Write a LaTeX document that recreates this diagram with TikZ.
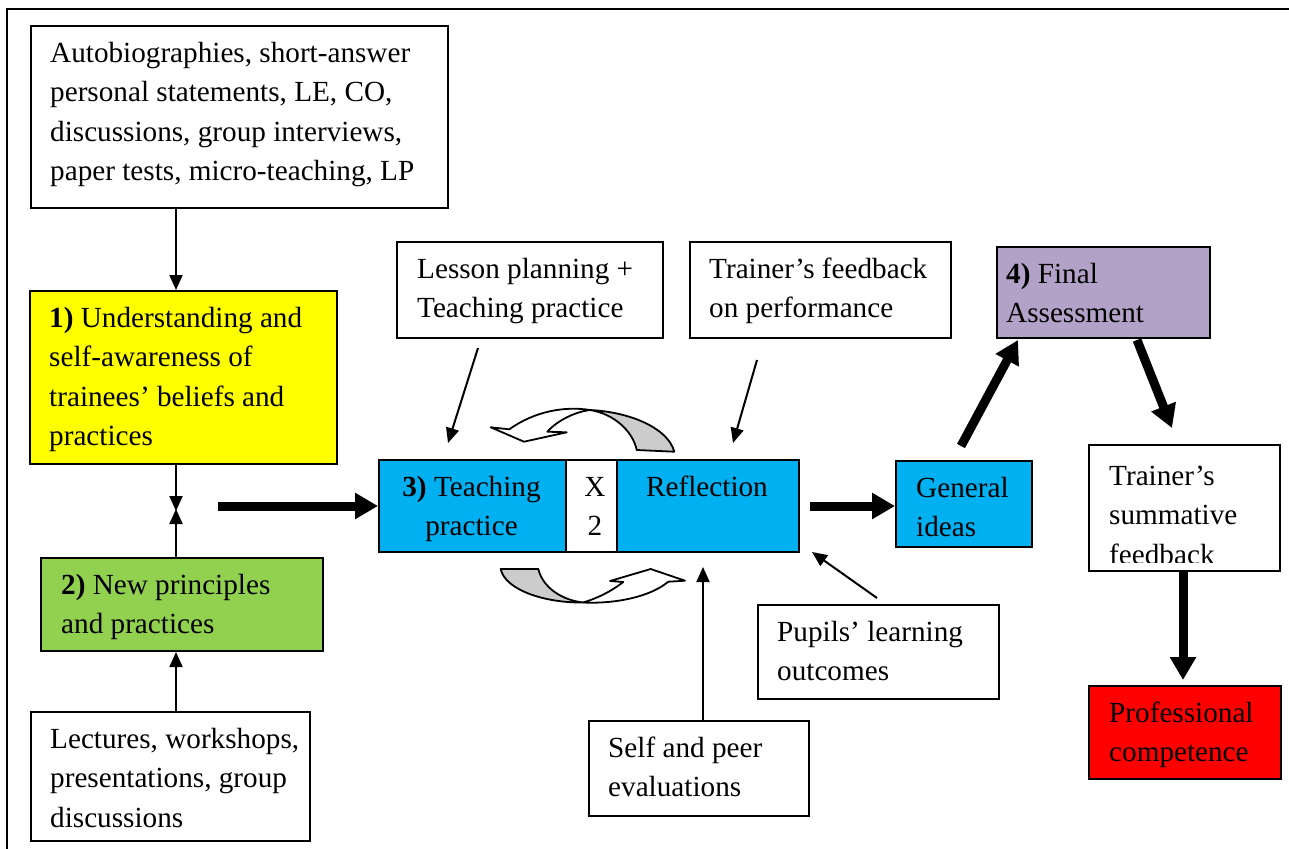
\documentclass[tikz,border=0pt]{standalone}
\usepackage{fontspec}
\setmainfont{Liberation Serif}
\usetikzlibrary{arrows.meta}
\definecolor{boxyellow}{HTML}{FFFF00}
\definecolor{boxgreen}{HTML}{92D050}
\definecolor{boxcyan}{HTML}{00B0F0}
\definecolor{boxpurple}{HTML}{B2A2C7}
\definecolor{boxred}{HTML}{FF0000}
\definecolor{turngray}{HTML}{CCCCCC}
% strut that fixes the height of a first text line
\newcommand\fst{\rule{0pt}{22pt}}
\begin{document}
\begin{tikzpicture}[x=1pt,y=-1pt,
  font=\fontsize{29.2pt}{39.5pt}\selectfont,
  box/.style={draw, line width=2pt, anchor=north west, inner sep=0pt},
  txt/.style={anchor=north west, align=left, inner sep=0pt},
  ctxt/.style={anchor=north, align=center, inner sep=0pt},
  thinarrow/.style={line width=2pt, -{Triangle[length=15pt,width=13pt]}},
  thickarrow/.style={line width=9pt, -{Triangle[length=23pt,width=25pt]}},
  turn/.style={draw, line width=1.8pt, line join=round},
]
\useasboundingbox (0,0) rectangle (1289,848);
% outer frame
\draw[line width=2pt] (7,9) rectangle (1300,860);

% ---- boxes ----
\node[box, minimum width=417pt, minimum height=182pt] (auto) at (30,25) {};
\node[txt] (autot) at (50,40) {\fst Autobiographies, short-answer\\personal statements, LE, CO,\\discussions, group interviews,\\paper tests, micro-teaching, LP};

\node[box, fill=boxyellow, minimum width=307pt, minimum height=173pt] (yel) at (29,290) {};
\node[txt] (yelt) at (49,305) {\fst\textbf{1)} Understanding and\\self-awareness of\\trainees’ beliefs and\\practices};

\node[box, fill=boxgreen, minimum width=282pt, minimum height=93pt] (grn) at (40,557) {};
\node[txt] (grnt) at (61,572) {\fst\textbf{2)} New principles\\and practices};

\node[box, minimum width=279pt, minimum height=129pt] (lect) at (30,711) {};
\node[txt] (lectt) at (50,726) {\fst Lectures, workshops,\\presentations, group\\discussions};

\node[box, minimum width=266pt, minimum height=96pt] (lp) at (396,241) {};
\node[txt] (lpt) at (417,256) {\fst Lesson planning +\\Teaching practice};

\node[box, minimum width=261pt, minimum height=96pt] (tf) at (689,241) {};
\node[txt] (tft) at (709,256) {\fst Trainer’s feedback\\on performance};

\node[box, fill=boxpurple, minimum width=213pt, minimum height=91pt] (fa) at (996,246) {};
\node[txt] (fat) at (1006,261) {\fst\textbf{4)} Final\\Assessment};

\node[box, fill=boxcyan, minimum width=187pt, minimum height=92pt] (tp) at (378,459) {};
\node[ctxt] (tpt) at (471.5,474) {\fst\textbf{3)} Teaching\\practice};
\node[box, minimum width=51pt, minimum height=92pt] (x2) at (565,459) {};
\node[ctxt] (x2t) at (595,474) {\fst X\\2};
\node[box, fill=boxcyan, minimum width=182pt, minimum height=92pt] (refl) at (616,459) {};
\node[ctxt] (reflt) at (707,474) {\fst Reflection};

\node[box, fill=boxcyan, minimum width=136pt, minimum height=86pt] (gi) at (895,460) {};
\node[txt] (git) at (916,475) {\fst General\\ideas};

\begin{scope}
  \clip (1088,444) rectangle (1279,562);
  \node[txt] (tsft) at (1109,463) {\fst Trainer’s\\summative\\feedback};
\end{scope}
\node[box, minimum width=191pt, minimum height=126pt] (tsf) at (1088,444) {};

\node[box, fill=boxred, minimum width=192pt, minimum height=93pt] (pc) at (1088,685) {};
\node[txt] (pct) at (1109,700) {\fst Professional\\competence};

\node[box, minimum width=241pt, minimum height=94pt] (pup) at (757,604) {};
\node[txt] (pupt) at (777,619) {\fst Pupils’ learning\\outcomes};

\node[box, minimum width=220pt, minimum height=95pt] (sp) at (588,720) {};
\node[txt] (spt) at (608,735) {\fst Self and peer\\evaluations};

% ---- free ends of connectors ----
\coordinate (meet) at (176,510);
\coordinate (start1) at (218,506);
\coordinate (lpend) at (478,348);
\coordinate (lptip) at (448,443);
\coordinate (tfend) at (757,360);
\coordinate (tftip) at (733,443);
\coordinate (pupend) at (877,598);
\coordinate (puptip) at (812,552);
\coordinate (sptip) at (703,567);

% ---- thin connectors ----
\draw[thinarrow] (176,207) -- (176,290);
\draw[thinarrow] (yel.south -| meet) -- ([yshift=-1pt]meet);
\draw[thinarrow] (grn.north -| meet) -- ([yshift=1pt]meet);
\draw[thinarrow] (lect.north -| meet) -- (grn.south -| meet);
\draw[thinarrow] (lpend) -- (lptip);
\draw[thinarrow] (tfend) -- (tftip);
\draw[thinarrow] (pupend) -- (puptip);
\draw[thinarrow] (sp.north -| sptip) -- (sptip);

% ---- thick connectors ----
\draw[thickarrow] (start1) -- (tp.west |- start1);
\draw[thickarrow] (810,506) -- (gi.west |- 0,506);
\draw[thickarrow] (961,446) -- (1018,340);
\draw[thickarrow] (1137,340) -- (1172,428);
\draw[thickarrow] (tsf.south -| 1183,0) -- (1183,680);

% ---- curved turn arrow above the row ----
\path[turn, fill=turngray] (590,410) .. controls (630,412) and (668,428) .. (674.3,451.7)
  -- (636.7,450) .. controls (633,432) and (615,414) .. (590,410) -- cycle;
\path[turn, fill=white] (509.3,429.3) .. controls (535,411) and (565,406) .. (590,410)
  .. controls (575,412) and (558,420) .. (547.3,431.7)
  -- (566.7,432.3) -- (524,441.7) -- (490.7,427.3) -- cycle;

% ---- curved turn arrow below the row ----
\path[turn, fill=turngray] (500.7,569) -- (538.3,569)
  .. controls (543,588) and (562,600) .. (583,602.5)
  .. controls (545,603) and (505,590) .. (500.7,569) -- cycle;
\path[turn, fill=white] (583,602.5) .. controls (615,604) and (650,597) .. (668.3,581.7)
  -- (685,580.7) -- (650.7,569) -- (610,581) -- (623.3,582)
  .. controls (610,592) and (598,598) .. (583,602.5) -- cycle;
\end{tikzpicture}
\end{document}
